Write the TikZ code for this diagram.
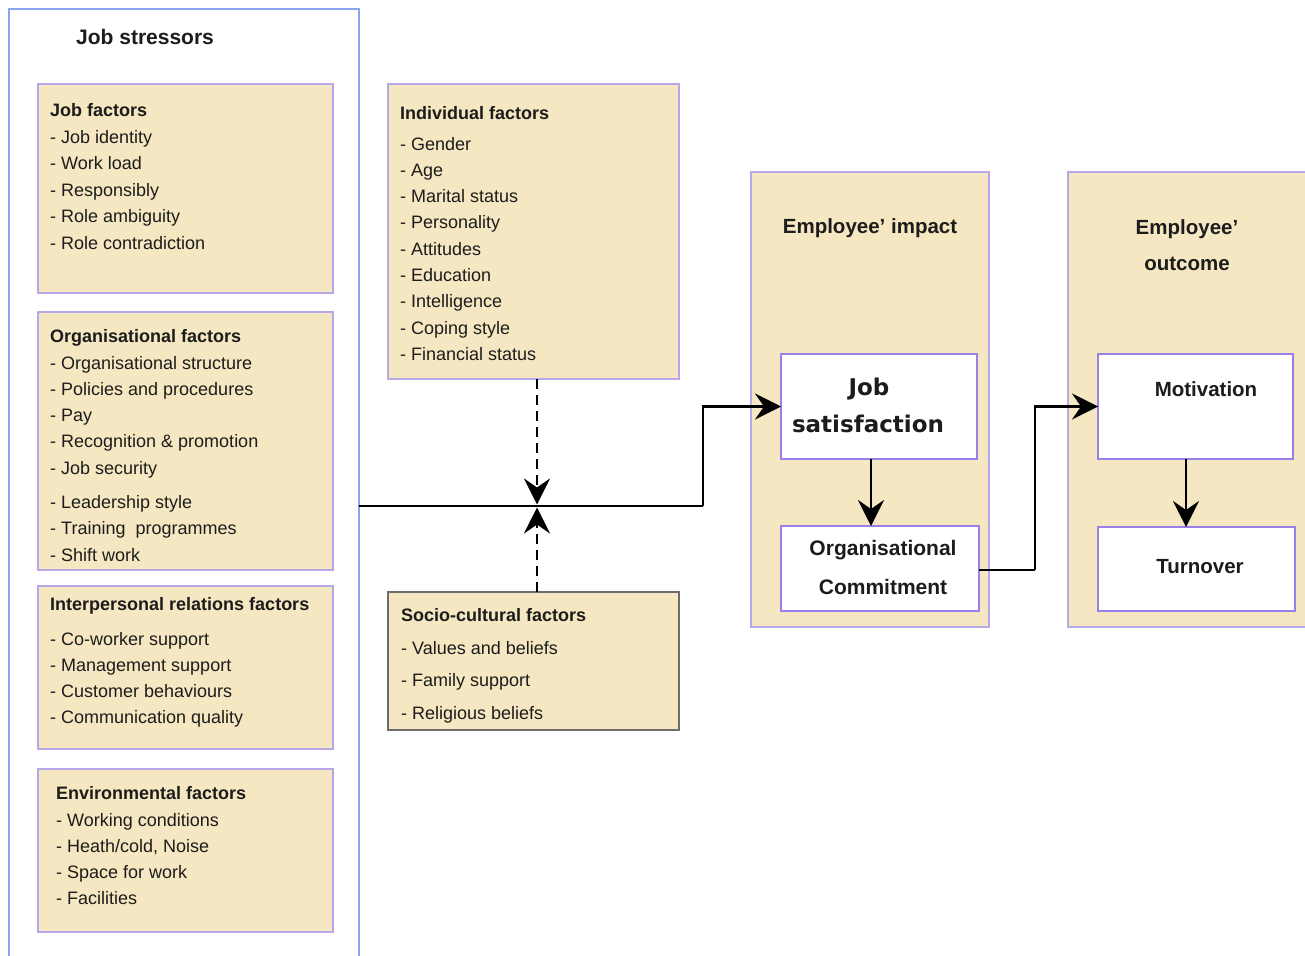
\documentclass[tikz,border=0pt]{standalone}
\usepackage{fontspec}
\setmainfont{Liberation Sans}
\newfontfamily\djv{DejaVu Sans}
\usetikzlibrary{arrows.meta}
\definecolor{beige}{RGB}{245,231,193}
\definecolor{lav}{RGB}{184,168,232}
\definecolor{purp}{RGB}{155,127,232}
\definecolor{blueb}{RGB}{140,165,240}
\definecolor{txt}{RGB}{28,28,28}
\definecolor{dgray}{RGB}{110,110,110}
\begin{document}
\begin{tikzpicture}[x=1pt,y=-1pt,
  panel/.style={draw=lav, line width=1.5pt, fill=beige, inner sep=0pt, outer sep=0pt},
  wbox/.style={draw=purp, line width=2.5pt, fill=white, inner sep=0pt, outer sep=0pt},
  outerbox/.style={draw=blueb, line width=2pt, fill=white, inner sep=0pt, outer sep=0pt},
  itm/.style={anchor=base west, inner sep=0pt, font=\fontsize{18}{22}\selectfont, text=txt},
  hdr/.style={itm, font=\fontsize{18}{22}\selectfont\bfseries},
  ttl/.style={anchor=base, inner sep=0pt, font=\fontsize{20.5}{24}\selectfont\bfseries, text=txt},
  arr/.style={line width=2.6pt, draw=black, -{Stealth[length=26pt,width=26pt,inset=9pt]}},
  darr/.style={arr, draw=black, line width=2.8pt, dash pattern=on 10pt off 6pt}
]
\useasboundingbox (0,0) rectangle (1305,955);

% outer box
\node[outerbox, minimum width=350pt, minimum height=956pt] (stressors) at (184,487) {};
\node[anchor=base west, inner sep=0pt, font=\fontsize{21}{25}\selectfont\bfseries, text=txt] (sttitle) at (76,45) {Job stressors};

% left panels
\node[panel, minimum width=295pt, minimum height=209pt] (jobf) at (185.5,188.5) {};
\node[panel, minimum width=295pt, minimum height=258pt] (orgf) at (185.5,441) {};
\node[panel, minimum width=295pt, minimum height=163pt] (intf) at (185.5,667.5) {};
\node[panel, minimum width=295pt, minimum height=163pt] (envf) at (185.5,850.5) {};

% middle panels
\node[panel, minimum width=291pt, minimum height=295pt] (indf) at (533.5,231.5) {};
\node[panel, draw=dgray, minimum width=291pt, minimum height=138pt] (socf) at (533.5,661) {};

% right panels
\node[panel, minimum width=238pt, minimum height=455pt] (impact) at (870,399.5) {};
\node[panel, minimum width=242pt, minimum height=455pt] (outcome) at (1189,399.5) {};

\node[wbox, minimum width=196pt, minimum height=105pt] (jsat) at (879,406.5) {};
\node[wbox, minimum width=198pt, minimum height=85pt] (commit) at (880,568.5) {};
\node[wbox, minimum width=195pt, minimum height=105pt] (motiv) at (1195.5,406.5) {};
\node[wbox, minimum width=197pt, minimum height=84pt] (turn) at (1196.5,569) {};

% texts: job factors
\node[hdr] (jfh) at (50,117) {Job factors};
\foreach \t [count=\i from 0] in {- Job identity, - Work load, - Responsibly, - Role ambiguity, - Role contradiction}
  \node[itm] (jf\i) at (50,143.5+26.4*\i) {\t};

% organisational factors
\node[hdr] (ofh) at (50,342) {Organisational factors};
\foreach \t [count=\i from 0] in {- Organisational structure, - Policies and procedures, - Pay, - Recognition \& promotion, - Job security}
  \node[itm] (of\i) at (50,369+26.3*\i) {\t};
\foreach \t [count=\i from 0] in {- Leadership style, - Training\ \ programmes, - Shift work}
  \node[itm] (ofb\i) at (50,508+26.5*\i) {\t};

% interpersonal
\node[hdr] (ifh) at (50,610) {Interpersonal relations factors};
\foreach \t [count=\i from 0] in {- Co-worker support, - Management support, - Customer behaviours, - Communication quality}
  \node[itm] (if\i) at (50,645+26.2*\i) {\t};

% environmental
\node[hdr] (efh) at (56,799) {Environmental factors};
\foreach \t [count=\i from 0] in {- Working conditions, {- Heath/cold, Noise}, - Space for work, - Facilities}
  \node[itm] (ef\i) at (56,826+26.3*\i) {\t};

% individual
\node[hdr] (idh) at (400,120) {Individual factors};
\foreach \t [count=\i from 0] in {- Gender, - Age, - Marital status, - Personality, - Attitudes, - Education, - Intelligence, - Coping style, - Financial status}
  \node[itm] (id\i) at (400,150+26.3*\i) {\t};

% socio-cultural
\node[hdr] (sch) at (401,621) {Socio-cultural factors};
\foreach \t [count=\i from 0] in {- Values and beliefs, - Family support, - Religious beliefs}
  \node[itm] (sc\i) at (401,654+32.8*\i) {\t};

% right titles
\node[ttl] (imptitle) at (870,233) {Employee' impact};
\node[ttl] (outtitle1) at (1187,234) {Employee'};
\node[ttl] (outtitle2) at (1187,270) {outcome};

\node[anchor=base, inner sep=0pt, font=\djv\fontsize{23}{27}\selectfont\bfseries, text=txt] (js1) at (869,395) {Job};
\node[anchor=base, inner sep=0pt, font=\djv\fontsize{23}{27}\selectfont\bfseries, text=txt] (js2) at (868,432) {satisfaction};
\node[ttl, font=\fontsize{21}{25}\selectfont\bfseries] (oc1) at (883,555) {Organisational};
\node[ttl, font=\fontsize{21}{25}\selectfont\bfseries] (oc2) at (883,594) {Commitment};
\node[ttl] (mt) at (1206,396) {Motivation};
\node[ttl] (tn) at (1200,573) {Turnover};

% connectors
\coordinate (mid) at (537,506);
\coordinate (bend1) at (703,506);
\coordinate (bend2) at (1035,570);
\draw[line width=2.6pt] (stressors.east |- mid) -- (bend1);
\draw[arr] (bend1) |- (jsat.west);
\draw[darr] (mid |- indf.south) -- ([yshift=1.5pt]mid);
\draw[darr] (mid |- socf.north) -- ([yshift=-1.5pt]mid);
\draw[arr] ([xshift=-8pt]jsat.south) -- ([xshift=-8pt]jsat.south |- commit.north);
\draw[line width=2.6pt] (commit.east |- bend2) -- (bend2);
\draw[arr] (bend2) |- (motiv.west);
\draw[arr] ([xshift=-9.5pt]motiv.south) -- ([xshift=-9.5pt]motiv.south |- turn.north);
\end{tikzpicture}
\end{document}
